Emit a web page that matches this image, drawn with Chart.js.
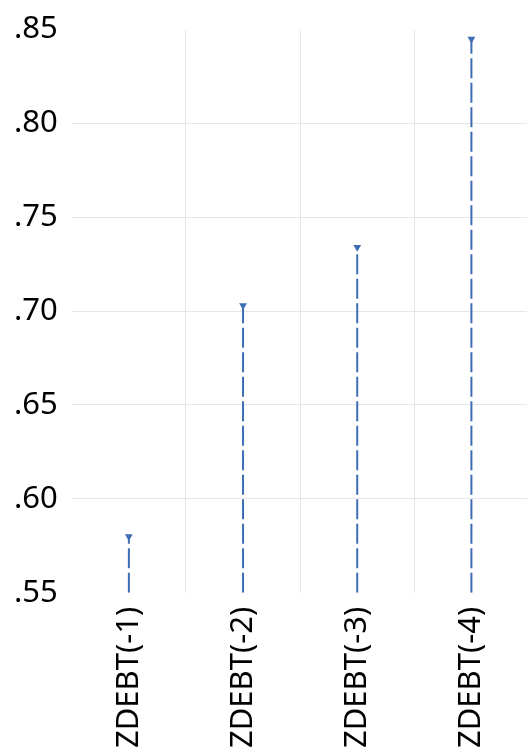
<!DOCTYPE html>
<html>
<head>
<meta charset="utf-8">
<script src="https://cdn.jsdelivr.net/npm/chart.js@4/dist/chart.umd.min.js"></script>
<style>
  html, body { margin: 0; padding: 0; background: #ffffff; overflow: hidden; }
  #wrap { position: relative; width: 533px; height: 753px; }
</style>
</head>
<body>
<div id="wrap"><canvas id="c"></canvas></div>
<script>
const categories = ['ZDEBT(-1)', 'ZDEBT(-2)', 'ZDEBT(-3)', 'ZDEBT(-4)'];
const values = [0.580, 0.703, 0.734, 0.845];
const yMin = 0.55;
const yMax = 0.85;
const yStep = 0.05;

const lineColor = '#3d6db4';
const font = "'Noto Sans', 'Open Sans', sans-serif";

const stemSets = categories.map((c, i) => ({
  type: 'line',
  data: [{ x: c, y: yMin }, { x: c, y: values[i] }],
  borderColor: lineColor,
  borderWidth: 2,
  borderDash: [20, 4.5],
  pointRadius: 0,
  fill: false
}));

const markerSet = {
  type: 'line',
  data: categories.map((c, i) => ({ x: c, y: values[i] })),
  showLine: false,
  pointStyle: 'triangle',
  rotation: 180,
  pointRadius: 4.5,
  pointBackgroundColor: lineColor,
  pointBorderColor: lineColor,
  pointBorderWidth: 0
};

new Chart(document.getElementById('c'), {
  type: 'line',
  data: { labels: categories, datasets: [...stemSets, markerSet] },
  options: {
    responsive: true,
    maintainAspectRatio: false,
    animation: false,
    layout: { padding: { top: 0, left: 0, right: 0, bottom: -9 } },
    plugins: { legend: { display: false }, tooltip: { enabled: false } },
    scales: {
      x: {
        type: 'category',
        offset: true,
        grid: {
          offset: true,
          drawTicks: false,
          color: (ctx) => (ctx.index === 0 || ctx.index >= categories.length) ? 'rgba(0,0,0,0)' : '#e6e6e6'
        },
        border: { display: false },
        ticks: {
          color: '#000000',
          font: { family: font, size: 31 },
          minRotation: 90,
          maxRotation: 90,
          padding: 14
        }
      },
      y: {
        min: yMin,
        max: yMax,
        grid: {
          drawTicks: false,
          color: (ctx) => {
            const v = ctx.tick ? ctx.tick.value : null;
            if (v === null || Math.abs(v - yMin) < 1e-6 || Math.abs(v - yMax) < 1e-6) return 'rgba(0,0,0,0)';
            return '#e6e6e6';
          }
        },
        border: { display: false },
        ticks: {
          stepSize: yStep,
          color: '#000000',
          font: { family: font, size: 31, lineHeight: 1.0 },
          padding: 14,
          callback: (v) => v.toFixed(2).replace(/^0/, '')
        }
      }
    }
  }
});
</script>
</body>
</html>
